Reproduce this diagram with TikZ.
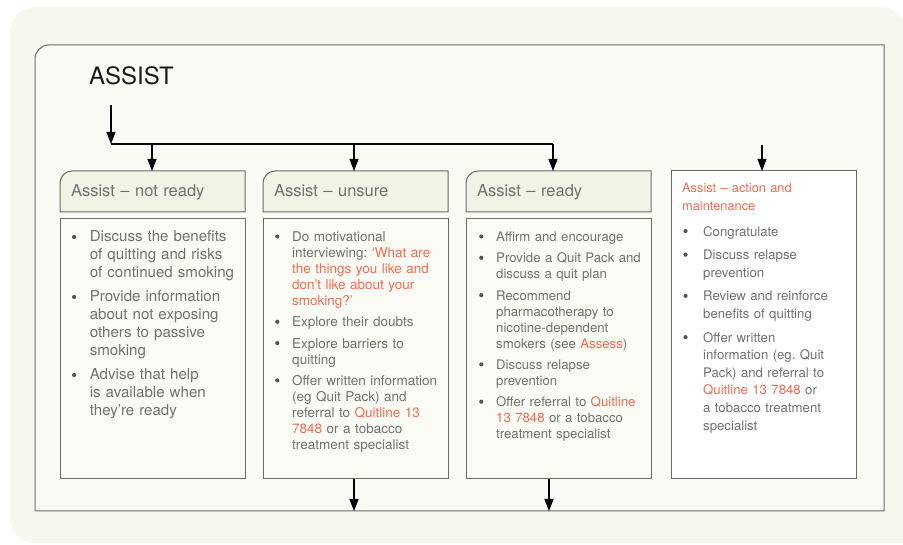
\documentclass[tikz,border=0pt]{standalone}
\usepackage{fontspec}
\setmainfont{TeX Gyre Heros}
\usepackage{enumitem}
\usetikzlibrary{arrows.meta,backgrounds}
\frenchspacing

\definecolor{qcream}{HTML}{F6F7EF}
\definecolor{qframe}{HTML}{FAFAF4}
\definecolor{qhead}{HTML}{F1F4E5}
\definecolor{qbody}{HTML}{FBFBF6}
\definecolor{qline}{HTML}{6A6A6A}
\definecolor{qtext}{HTML}{707070}
\definecolor{qred}{HTML}{F26B50}
\newcommand{\qlink}[1]{\textcolor{qred}{#1}}
\newcommand{\qdot}{\tikz[baseline=0pt]\fill[qtext!75!black] (0,5pt) circle[radius=2.1pt];}

\setlist[itemize]{label=\qdot, labelindent=0pt, labelwidth=7pt, labelsep=12.8pt, leftmargin=19.8pt, topsep=0pt, partopsep=0pt, parsep=0pt, itemsep=5pt}

\tikzset{
  hdr/.style={anchor=north west, minimum width=185pt, minimum height=41pt, text width=163pt, text height=12pt, text depth=2pt, inner xsep=11pt, inner ysep=0pt, outer sep=0pt, align=left, text=qtext, font=\fontsize{16.5}{19}\selectfont},
  hdrbox/.style={draw=qline, fill=qhead, line width=1pt},
  body/.style={anchor=north west, minimum width=185pt, minimum height=260pt, inner sep=0pt, outer sep=0pt, draw=qline, fill=qbody, line width=1pt},
  points/.style={anchor=base west, inner sep=0pt, text width=175pt, align=left, text=qtext},
  wire/.style={line width=1.1pt, black},
  >={Triangle[length=12pt,width=9pt]}
}

\begin{document}
\begin{tikzpicture}[x=1pt,y=1pt]
  \useasboundingbox (0,0) rectangle (903,544);
  % title and stage boxes
  \node[anchor=base west, inner sep=0pt, text=black!90, font=\fontsize{24}{28}\selectfont] (assist) at (89,459.7) {ASSIST};
  \node[hdr] (h1) at (60,373) {Assist – not ready};
  \node[hdr] (h2) at (263,373) {Assist – unsure};
  \node[hdr] (h3) at (466,373) {Assist – ready};
  \node[body] (b1) at (60,325) {};
  \node[body] (b2) at (263,325) {};
  \node[body] (b3) at (466,325) {};
  \node[body, minimum height=308pt, fill=white] (b4) at (671,373) {};
  % bullet lists
  \node[points, font=\fontsize{15.1}{18}\selectfont] (t1) at (69,320) {%
    \begin{itemize}[labelsep=13.6pt, leftmargin=20.6pt, itemsep=6pt]
      \item Discuss the benefits\\ of quitting and risks\\ of continued smoking
      \item Provide information\\ about not exposing\\ others to passive\\ smoking
      \item Advise that help\\ is available when\\ they’re ready
    \end{itemize}};
  \node[points, font=\fontsize{13.5}{16}\selectfont] (t2) at (272.2,318.5) {%
    \begin{itemize}[itemsep=5.3pt]
      \item Do motivational\\ interviewing: \qlink{‘What are\\ the things you like and\\ don’t like about your\\ smoking?’}
      \item Explore their doubts
      \item Explore barriers to\\ quitting
      \item Offer written information\\ (eg Quit Pack) and\\ referral to \qlink{Quitline 13\\ 7848} or a tobacco\\ treatment specialist
    \end{itemize}};
  \node[points, font=\fontsize{13.2}{16}\selectfont] (t3) at (476.2,318.5) {%
    \begin{itemize}[itemsep=5.3pt]
      \item Affirm and encourage
      \item Provide a Quit Pack and\\ discuss a quit plan
      \item Recommend\\ pharmacotherapy to\\ nicotine-dependent\\ smokers (see \qlink{Assess})
      \item Discuss relapse\\ prevention
      \item Offer referral to \qlink{Quitline\\ 13 7848} or a tobacco\\ treatment specialist
    \end{itemize}};
  \node[points, text=qred, text width=160pt, font=\fontsize{12.8}{18}\selectfont] (t4h) at (682,351.5) {Assist – action and\\ maintenance};
  \node[points, text width=170pt, font=\fontsize{13.2}{17.6}\selectfont] (t4) at (680.4,325.5) {%
    \begin{itemize}[labelsep=15.6pt, leftmargin=22.6pt, itemsep=6pt]
      \item Congratulate
      \item Discuss relapse\\ prevention
      \item Review and reinforce\\ benefits of quitting
      \item Offer written\\ information (eg. Quit\\ Pack) and referral to\\ \qlink{Quitline 13 7848} or\\ a tobacco treatment\\ specialist
    \end{itemize}};
  % connectors
  \coordinate (in) at (111,439);
  \coordinate (split) at (111,400);
  \coordinate (j1) at (152,400);
  \coordinate (j2) at (354,400);
  \coordinate (j3) at (553,400);
  \coordinate (in4) at (762,399);
  \coordinate (o2) at (354,33);
  \coordinate (o3) at (549,33);
  \draw[wire,->] (in) -- (split);
  \draw[wire] (split) -- (j3);
  \draw[wire,->] (j1) -- (j1 |- h1.north);
  \draw[wire,->] (j2) -- (j2 |- h2.north);
  \draw[wire,->] (j3) -- (j3 |- h3.north);
  \draw[wire,->] (in4) -- (in4 |- b4.north);
  \draw[wire,->] (o2 |- b2.south) -- (o2);
  \draw[wire,->] (o3 |- b3.south) -- (o3);
  % backdrop, frame and header shapes
  \begin{scope}[on background layer]
    \fill[qcream] (906,1) -- (906,512) arc[start angle=0, end angle=90, radius=25] -- (35,537) arc[start angle=90, end angle=180, radius=25] -- (10,26) arc[start angle=180, end angle=270, radius=25] -- cycle;
    \draw[draw=qline, fill=qframe, line width=1pt] (35,33) -- (35,485) arc[start angle=180, end angle=90, radius=14] -- (884,499) -- (884,33) -- cycle;
    \foreach \h in {h1,h2,h3}
      \draw[hdrbox] (\h.south west) -- ([yshift=-12pt]\h.north west) arc[start angle=180, end angle=90, radius=12pt] -- (\h.north east) -- (\h.south east) -- cycle;
  \end{scope}
\end{tikzpicture}
\end{document}
